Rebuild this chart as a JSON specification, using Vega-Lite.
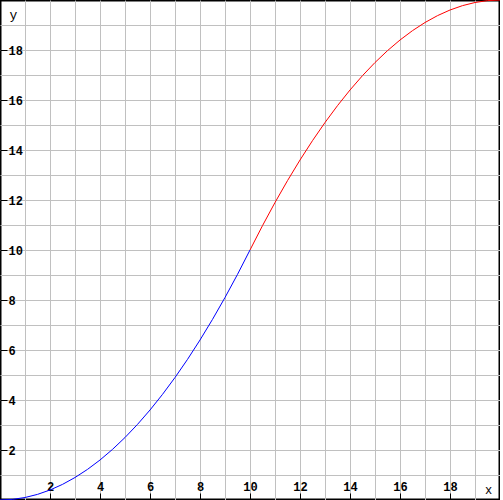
{
  "$schema": "https://vega.github.io/schema/vega-lite/v6.json",
  "width": 500,
  "height": 500,
  "padding": 0,
  "autosize": "none",
  "background": "white",
  "config": {
    "view": {"stroke": "black", "strokeWidth": 3},
    "font": "Liberation Mono"
  },
  "resolve": {"axis": {"x": "independent", "y": "independent"}},
  "data": {
    "values": [
      {"x": 0, "y": 0, "s": "a"}, {"x": 0.5, "y": 0.025, "s": "a"}, {"x": 1, "y": 0.1, "s": "a"},
      {"x": 1.5, "y": 0.225, "s": "a"}, {"x": 2, "y": 0.4, "s": "a"}, {"x": 2.5, "y": 0.625, "s": "a"},
      {"x": 3, "y": 0.9, "s": "a"}, {"x": 3.5, "y": 1.225, "s": "a"}, {"x": 4, "y": 1.6, "s": "a"},
      {"x": 4.5, "y": 2.025, "s": "a"}, {"x": 5, "y": 2.5, "s": "a"}, {"x": 5.5, "y": 3.025, "s": "a"},
      {"x": 6, "y": 3.6, "s": "a"}, {"x": 6.5, "y": 4.225, "s": "a"}, {"x": 7, "y": 4.9, "s": "a"},
      {"x": 7.5, "y": 5.625, "s": "a"}, {"x": 8, "y": 6.4, "s": "a"}, {"x": 8.5, "y": 7.225, "s": "a"},
      {"x": 9, "y": 8.1, "s": "a"}, {"x": 9.5, "y": 9.025, "s": "a"}, {"x": 10, "y": 10, "s": "a"},
      {"x": 10, "y": 10, "s": "b"}, {"x": 10.5, "y": 10.975, "s": "b"}, {"x": 11, "y": 11.9, "s": "b"},
      {"x": 11.5, "y": 12.775, "s": "b"}, {"x": 12, "y": 13.6, "s": "b"}, {"x": 12.5, "y": 14.375, "s": "b"},
      {"x": 13, "y": 15.1, "s": "b"}, {"x": 13.5, "y": 15.775, "s": "b"}, {"x": 14, "y": 16.4, "s": "b"},
      {"x": 14.5, "y": 16.975, "s": "b"}, {"x": 15, "y": 17.5, "s": "b"}, {"x": 15.5, "y": 17.975, "s": "b"},
      {"x": 16, "y": 18.4, "s": "b"}, {"x": 16.5, "y": 18.775, "s": "b"}, {"x": 17, "y": 19.1, "s": "b"},
      {"x": 17.5, "y": 19.375, "s": "b"}, {"x": 18, "y": 19.6, "s": "b"}, {"x": 18.5, "y": 19.775, "s": "b"},
      {"x": 19, "y": 19.9, "s": "b"}, {"x": 19.5, "y": 19.975, "s": "b"}, {"x": 20, "y": 20, "s": "b"}
    ]
  },
  "layer": [
    {
      "mark": {"type": "line", "strokeWidth": 1, "opacity": 0},
      "encoding": {
        "x": {"field": "x", "type": "quantitative", "scale": {"domain": [0, 20], "nice": false, "zero": false},
          "axis": {"values": [1,2,3,4,5,6,7,8,9,10,11,12,13,14,15,16,17,18,19], "grid": true, "gridColor": "#c0c0c0", "gridOpacity": 1, "gridWidth": 1, "labels": false, "ticks": false, "domain": false, "title": null, "orient": "bottom"}},
        "y": {"field": "y", "type": "quantitative", "scale": {"domain": [0, 20], "nice": false, "zero": false},
          "axis": {"values": [1,2,3,4,5,6,7,8,9,10,11,12,13,14,15,16,17,18,19], "grid": true, "gridColor": "#c0c0c0", "gridOpacity": 1, "gridWidth": 1, "labels": false, "ticks": false, "domain": false, "title": null, "orient": "left"}}
      }
    },
    {
      "mark": {"type": "line", "strokeWidth": 1},
      "encoding": {
        "x": {"field": "x", "type": "quantitative", "scale": {"domain": [0, 20], "nice": false, "zero": false},
          "axis": {"values": [2,4,6,8,10,12,14,16,18], "grid": false, "domain": false, "ticks": true, "tickColor": "black", "tickSize": -7, "tickWidth": 1,
            "labelPadding": -7, "labelBaseline": "middle", "labelFontSize": 12, "labelFontWeight": "bold", "labelColor": "black", "labelFont": "Liberation Mono",
            "title": "x", "titleX": 488, "titleY": -11, "titleAlign": "center", "titleBaseline": "middle", "titleFontWeight": "normal", "titleFontSize": 12, "titleColor": "black", "titleFont": "Liberation Mono", "orient": "bottom"}},
        "y": {"field": "y", "type": "quantitative", "scale": {"domain": [0, 20], "nice": false, "zero": false},
          "axis": {"values": [2,4,6,8,10,12,14,16,18], "grid": false, "domain": false, "ticks": true, "tickColor": "black", "tickSize": -7, "tickWidth": 1,
            "labelPadding": -1, "labelAlign": "left", "labelBaseline": "middle", "labelFontSize": 12, "labelFontWeight": "bold", "labelColor": "black", "labelFont": "Liberation Mono",
            "title": "y", "titleX": 13, "titleY": 14, "titleAngle": 0, "titleAlign": "center", "titleBaseline": "middle", "titleFontWeight": "normal", "titleFontSize": 13, "titleColor": "black", "titleFont": "Liberation Mono", "orient": "left"}},
        "color": {"field": "s", "type": "nominal", "scale": {"domain": ["a", "b"], "range": ["#0000ff", "#ff0000"]}, "legend": null}
      }
    }
  ]
}
